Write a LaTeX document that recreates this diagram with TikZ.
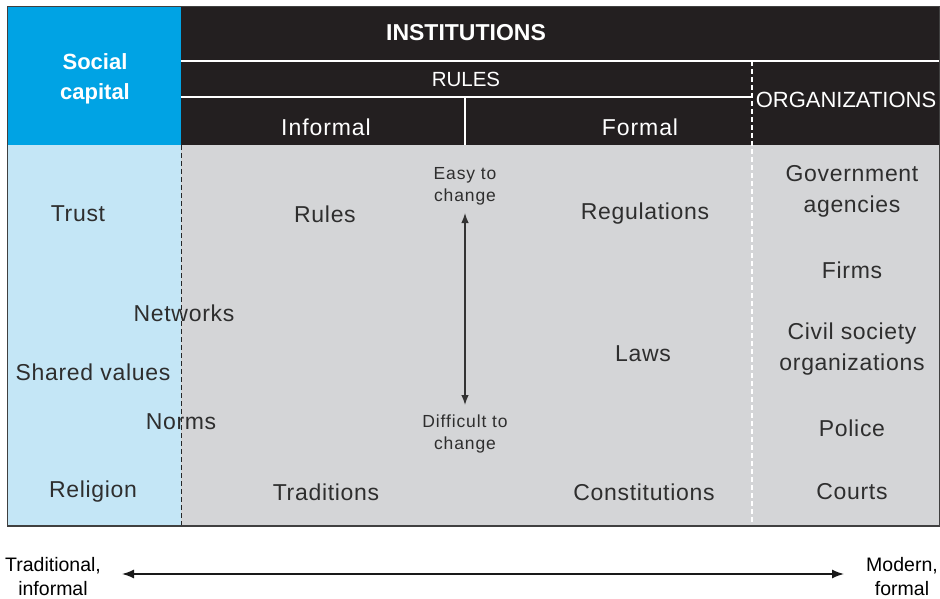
\documentclass[tikz,border=0pt]{standalone}
\usepackage{fontspec}
\setmainfont{Liberation Sans}
\usetikzlibrary{arrows.meta}
\definecolor{capblue}{HTML}{00A3E4}
\definecolor{lightblue}{HTML}{C4E6F6}
\definecolor{bodygrey}{HTML}{D4D5D7}
\definecolor{headblack}{HTML}{231F20}
\definecolor{txt}{HTML}{2E2E2E}
\tikzset{
  big/.style={font=\fontsize{23}{31}\selectfont\addfontfeatures{LetterSpace=3}, text=txt, align=center, inner sep=1pt},
  head/.style={text=white, align=center, inner sep=1pt},
  small/.style={font=\fontsize{17.5}{22}\selectfont\addfontfeatures{LetterSpace=5}, text=txt, align=center, inner sep=1pt},
  foot/.style={font=\fontsize{19.5}{24}\selectfont, text=black, align=center, inner sep=1pt},
  sep/.style={white, line width=1.6pt},
  dsep/.style={white, line width=1.6pt, dash pattern=on 5pt off 3pt},
  arr/.style={{Latex[length=10pt,width=7.5pt]}-{Latex[length=10pt,width=7.5pt]}, line width=1.3pt, draw=black!80},
  farr/.style={{Latex[length=12pt,width=9pt]}-{Latex[length=12pt,width=9pt]}, line width=1.5pt, draw=black!90}
}
\begin{document}
\begin{tikzpicture}[x=1pt,y=-1pt]
\useasboundingbox (0,0) rectangle (940,599);
% backgrounds
\fill[capblue] (8,7) rectangle (181,145);
\fill[headblack] (181,7) rectangle (940,145);
\fill[lightblue] (8,145) rectangle (181,526);
\fill[bodygrey] (181,145) rectangle (940,526);
% header lines
\coordinate (h1l) at (181,61); \coordinate (h1r) at (940,61);
\coordinate (h2l) at (181,97); \coordinate (h2r) at (752,97);
\coordinate (vt) at (465,97); \coordinate (vb) at (465,145);
\coordinate (ot) at (752,61); \coordinate (ob) at (752,526);
\coordinate (st) at (181,145); \coordinate (sb) at (181,526);
\draw[sep] (h1l) -- (h1r);
\draw[sep] (h2l) -- (h2r);
\draw[sep] (vt) -- (vb);
\draw[dsep] (ot) -- (ob);
\draw[black!85, line width=1pt, dash pattern=on 5pt off 3pt] (st) -- (sb);
% frame
\draw[black!75, line width=1.2pt] (7.5,6.5) rectangle (940,526);
% header texts
\node[head, font=\bfseries\fontsize{22}{30}\selectfont] (soc) at (95,79) {Social\\capital};
\node[head, font=\bfseries\fontsize{23}{28}\selectfont] (inst) at (466,33) {INSTITUTIONS};
\node[head, font=\fontsize{20.5}{24}\selectfont] (rules) at (466,79) {RULES};
\node[head, font=\fontsize{22}{26}\selectfont] (org) at (846,100) {ORGANIZATIONS};
\node[head, font=\fontsize{23}{26}\selectfont\addfontfeatures{LetterSpace=4}] (inf) at (326,127) {Informal};
\node[head, font=\fontsize{23}{26}\selectfont\addfontfeatures{LetterSpace=4}] (form) at (640,127) {Formal};
% body texts
\node[big] (trust) at (78,214) {Trust};
\node[big] (rul) at (325,214) {Rules};
\node[big] (reg) at (645,214) {Regulations};
\node[big] (gov) at (852,191) {Government\\agencies};
\node[big] (firms) at (852,270) {Firms};
\node[big] (net) at (184,313) {Networks};
\node[big] (shv) at (93,372) {Shared values};
\node[big] (laws) at (643,354) {Laws};
\node[big] (civ) at (852,349) {Civil society\\organizations};
\node[big] (norms) at (181,422) {Norms};
\node[big] (pol) at (852,428) {Police};
\node[big] (rel) at (93,492) {Religion};
\node[big] (trad) at (326,492) {Traditions};
\node[big] (con) at (644,492) {Constitutions};
\node[big] (cou) at (852,492) {Courts};
\node[small] (easy) at (465,186) {Easy to\\change};
\node[small] (diff) at (465,434) {Difficult to\\change};
\coordinate (at) at (465,213);
\coordinate (ab) at (465,405);
\draw[arr] (at) -- (ab);
% footer
\node[foot] (tr) at (53,577) {Traditional,\\informal};
\node[foot] (mo) at (902,577) {Modern,\\formal};
\coordinate (fl) at (122,574);
\coordinate (fr) at (844,574);
\draw[farr] (fl) -- (fr);
\end{tikzpicture}
\end{document}
